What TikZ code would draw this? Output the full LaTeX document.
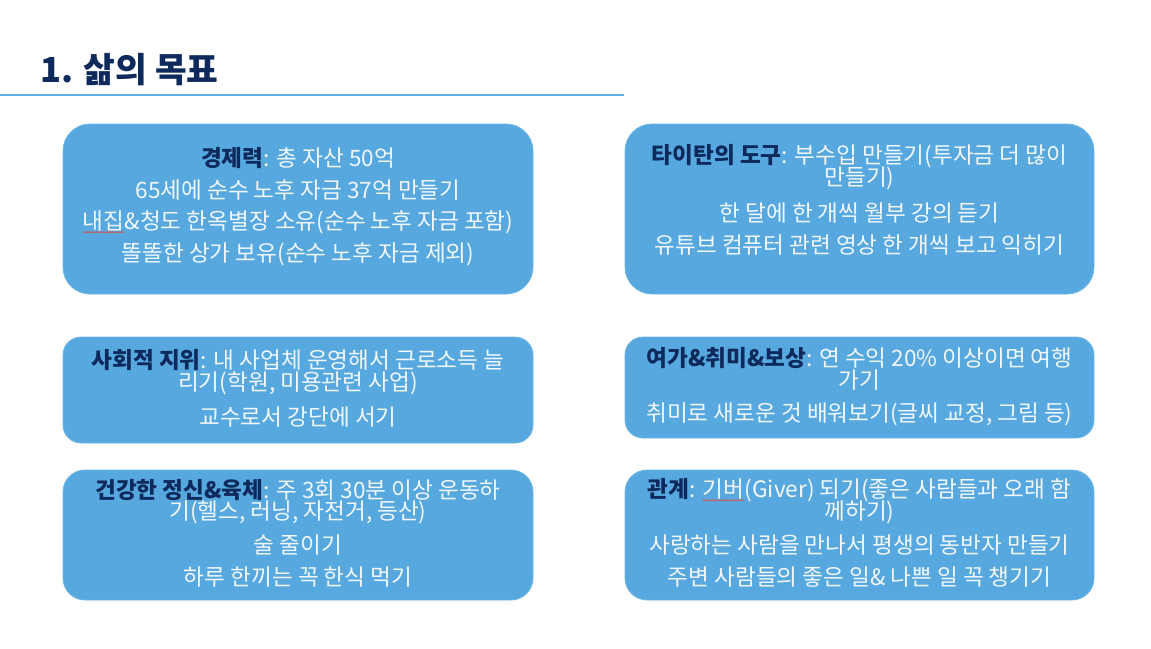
\documentclass[tikz,border=0pt]{standalone}
\usepackage{fontspec}
\setmainfont{Noto Sans CJK KR}
\usetikzlibrary{decorations.pathmorphing}
\definecolor{boxfill}{HTML}{56A8DF}
\definecolor{boxedge}{HTML}{6CB6E6}
\definecolor{txt}{HTML}{F2F7FB}
\definecolor{navy}{HTML}{0E2A5C}
\definecolor{rule}{HTML}{5BAFE3}
\definecolor{squigred}{HTML}{D9534F}
\newcommand\lbl[1]{{\color{navy}\bfseries #1}}
\newcommand\squig[1]{\tikz[baseline=(sq.base)]{\node[inner sep=0pt,outer sep=0pt](sq){#1};\draw[squigred,line width=0.6pt,decorate,decoration={snake,amplitude=0.6pt,segment length=2.2pt}] ([yshift=-3pt]sq.base west)--([yshift=-3pt]sq.base east);}}
\tikzset{
  goalbox/.style={fill=boxfill,draw=boxedge,line width=0.8pt},
  boxline/.style={text=txt,font=\fontsize{22.6}{26}\selectfont,inner sep=0pt,anchor=center},
  titletext/.style={text=navy,font=\fontsize{34.5}{38}\selectfont\bfseries,inner sep=0pt,anchor=west},
}
\begin{document}
\begin{tikzpicture}[x=1pt,y=-1pt]
\useasboundingbox[fill=white] (0,0) rectangle (1151,648);
% title
\node[titletext] (title) at (40,70) {1. 삶의 목표};
\coordinate (ruleL) at (0,95);
\coordinate (ruleR) at (624,95);
\draw[rule,line width=2.2pt] (ruleL) -- (ruleR);
% boxes
\draw[goalbox,rounded corners=27pt] (63,124) rectangle (533,294);
\node[inner sep=0pt] (box1) at (298,209) {};
\draw[goalbox,rounded corners=27pt] (625,124) rectangle (1094,294);
\node[inner sep=0pt] (box2) at (859.5,209) {};
\draw[goalbox,rounded corners=18pt] (63,337) rectangle (533,443);
\node[inner sep=0pt] (box3) at (298,390) {};
\draw[goalbox,rounded corners=18pt] (625,337) rectangle (1094,438);
\node[inner sep=0pt] (box4) at (859.5,387) {};
\draw[goalbox,rounded corners=22pt] (63,470) rectangle (533,600);
\node[inner sep=0pt] (box5) at (298,535) {};
\draw[goalbox,rounded corners=22pt] (625,470) rectangle (1094,600);
\node[inner sep=0pt] (box6) at (859.5,535) {};
% box 1
\node[boxline] (b1a) at (298,158) {\lbl{경제력}: 총 자산 50억};
\node[boxline] (b1b) at (298,190) {65세에 순수 노후 자금 37억 만들기};
\node[boxline] (b1c) at (298,222) {\squig{내집}\&청도 한옥별장 소유(순수 노후 자금 포함)};
\node[boxline] (b1d) at (298,254) {똘똘한 상가 보유(순수 노후 자금 제외)};
% box 2
\node[boxline] (b2a) at (859.5,156) {\lbl{타이탄의 도구}: 부수입 만들기(투자금 더 많이};
\node[boxline] (b2b) at (859.5,178) {만들기)};
\node[boxline] (b2c) at (859.5,213) {한 달에 한 개씩 월부 강의 듣기};
\node[boxline] (b2d) at (859.5,245) {유튜브 컴퓨터 관련 영상 한 개씩 보고 익히기};
% box 3
\node[boxline] (b3a) at (298,360) {\lbl{사회적 지위}: 내 사업체 운영해서 근로소득 늘};
\node[boxline] (b3b) at (298,383) {리기(학원, 미용관련 사업)};
\node[boxline] (b3c) at (298,417) {교수로서 강단에 서기};
% box 4
\node[boxline] (b4a) at (859.5,358) {\lbl{여가\&취미\&보상}: 연 수익 20\% 이상이면 여행};
\node[boxline] (b4b) at (859.5,380) {가기};
\node[boxline] (b4c) at (859.5,414) {취미로 새로운 것 배워보기(글씨 교정, 그림 등)};
% box 5
\node[boxline] (b5a) at (298,490) {\lbl{건강한 정신\&육체}: 주 3회 30분 이상 운동하};
\node[boxline] (b5b) at (298,512) {기(헬스, 러닝, 자전거, 등산)};
\node[boxline] (b5c) at (298,545) {술 줄이기};
\node[boxline] (b5d) at (298,577) {하루 한끼는 꼭 한식 먹기};
% box 6
\node[boxline] (b6a) at (859.5,490) {\lbl{관계}: \squig{기버}(Giver) 되기(좋은 사람들과 오래 함};
\node[boxline] (b6b) at (859.5,512) {께하기)};
\node[boxline] (b6c) at (859.5,545) {사랑하는 사람을 만나서 평생의 동반자 만들기};
\node[boxline] (b6d) at (859.5,577) {주변 사람들의 좋은 일\& 나쁜 일 꼭 챙기기};
\end{tikzpicture}
\end{document}
